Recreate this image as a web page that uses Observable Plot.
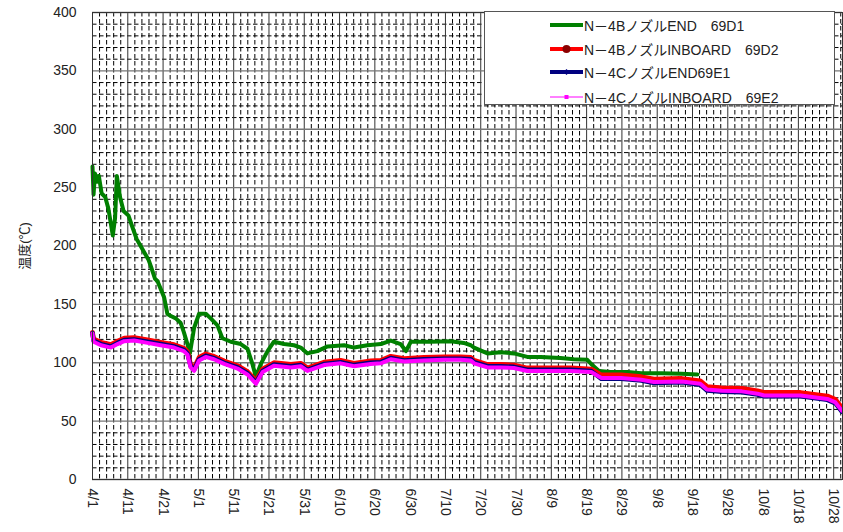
<!DOCTYPE html>
<html>
<head>
<meta charset="utf-8">
<script src="https://cdn.jsdelivr.net/npm/d3@7"></script>
<script src="https://cdn.jsdelivr.net/npm/@observablehq/plot@0.6"></script>
<style>
  body { margin: 0; background: #fff; }
  #wrap { position: relative; width: 843px; height: 532px; font-family: "Liberation Sans", Arial, "Noto Sans CJK JP", sans-serif; }
  #legend { position: absolute; left: 484px; top: 11px; width: 351px; height: 94px; background: #fff; border: 1px solid #555; box-sizing: border-box; }
  .row { position: absolute; left: 65px; height: 20px; display: flex; align-items: center; font-size: 14px; color: #222; white-space: pre; }
  .row svg { margin-right: 1px; }
  #ylabel { position: absolute; left: 23px; top: 246px; transform: translate(-50%, -50%) rotate(-90deg); font-size: 13px; color: #222; white-space: nowrap; }
</style>
</head>
<body>
<div id="wrap"></div>
<script>
// x positions are days after 4/1
const tickLabels = ["4/1","4/11","4/21","5/1","5/11","5/21","5/31","6/10","6/20","6/30","7/10","7/20","7/30","8/9","8/19","8/29","9/8","9/18","9/28","10/8","10/18","10/28"];
const tickDays = [0,10,20,30,40,50,60,70,80,90,100,110,120,130,140,150,160,170,180,190,200,210];
const yTicks = [0,50,100,150,200,250,300,350,400];
const yTitle = "温度(℃)";

const seriesNames = ["N－4BノズルEND　69D1", "N－4BノズルINBOARD　69D2", "N－4CノズルEND69E1", "N－4CノズルINBOARD　69E2"];

const daysA = [0,0.3,0.7,1.3,1.8,2.6,3.6,4.5,5.75,6.4,6.9,7.8,8.8,10.2,11.1,12.5,14.4,15.9,16.5,17.7,18.4,20.3,21.2,22.2,23.6,25,25.9,26.9,27.6,28.8,30.2,32.1,33.5,35.4,36.8,39.2,42,43.9,45.3,46.3,47.7,49.6,51.4,54.3,57.1,59,60.9,63.7,66.6,71.3,74.1,77.9,81.7,84.5,87.3,88.8,90.2,95.8,101.5,105.2,107.2,108.1,111.9,115.7,119.4,123.2,127,132.6,136.4,140.2,141.6,143.5,146.8,151.6,155.5,161.2,166.9,171.4];
const green69D1 = [268,244,262,255,260,245,242,232,209,224,260,242,230,226,218,206,196,188,183,172,170,156,142,140,138,134,126,116,108,130,142,142,138,132,121,118,116,112,99,88,99,110,118,116,115,113,108,110,114,115,113,115,116,119,116,110,118,118,118.5,117,115,113,108,109,108,105,105,104,103,102.5,98,93,92,92,91,91,90.5,90];

const daysB = [0,0.3,2.4,5.2,7.1,9,11.8,15.6,19.3,23.1,25.9,26.9,27.8,28.8,30.2,32.1,34.4,37.3,41.1,43.9,46.3,48.2,51.4,56.2,59,60.9,65.6,70.3,74.1,78.8,81.7,84.5,88.3,93.9,99.6,104.3,107.2,108.1,111.9,115.7,119.4,123.2,128.9,135.6,141.3,144.2,149.8,155.5,159.1,167,172.2,174.1,178.3,184,188.4,190.3,195,200.6,204.4,208.2,210.5,212.3];
const red69D2 = [126,120.5,117.5,115.5,118.5,121,121.5,119.5,117.5,115.5,112.5,109.5,98.5,95.5,104.5,107.5,105.5,101.5,97.5,92.5,84.5,94.5,100,98.5,99.5,95.5,100.5,102,99.5,101.5,102,105.5,103.5,104.5,105,105,104.5,102,98.5,98.5,98,95.5,95.5,95.5,94.5,89.5,89.5,88,86,86.5,84.5,79.5,78.5,78,76,74.5,74.5,74.5,73,71.5,68.5,61.5];
const navy69E1 = [125.5,119,116,114,117,119.5,120,118,116,114,111,108,97,94,103,106,104,100,96,91,83,93,98.5,97,98,94,99,100.5,98,100,100.5,104,102,103,103.5,103.5,103,100.5,97,97,96.5,94,94,94,93,86.2,86.2,84.7,82.7,83.2,81.2,76.2,75.2,74.7,72.7,71.2,71.2,71.2,69.7,68.2,65.2,58.2];
const magenta69E2 = [125,118,115,113,116,118.5,119,117,115,113,110,107,96,93,102,105,103,99,95,90,82,92,97.5,96,97,93,98,99.5,97,99,99.5,103,101,102,102.5,102.5,102,99.5,96,96,95.5,93,93,93,92,87,87,85.5,83.5,84,82,77,76,75.5,73.5,72,72,72,70.5,69,66,59];

const colors = ["#008000", "#ff0000", "#000080", "#ff00ff"];

const zip = (days, vals) => days.map((d, i) => ({d, v: vals[i]}));
const gData = zip(daysA, green69D1);
const rData = zip(daysB, red69D2);
const nData = zip(daysB, navy69E1);
const mData = zip(daysB, magenta69E2);

const minorX = d3.range(0, 213, 2).filter(d => d % 10 !== 0);
const minorY = d3.range(10, 400, 10).filter(v => v % 50 !== 0);

const dash = "4.5,2.5";
const chart = Plot.plot({
  width: 843,
  height: 532,
  marginLeft: 92,
  marginRight: 1,
  marginTop: 12,
  marginBottom: 53,
  x: {domain: [0, 212.5]},
  y: {domain: [0, 400]},
  style: {fontFamily: '"Liberation Sans", Arial, "Noto Sans CJK JP", sans-serif', fontSize: "14px", color: "#222", background: "#fff"},
  marks: [
    Plot.ruleX(minorX, {stroke: "#000", strokeDasharray: dash, strokeWidth: 1}),
    Plot.ruleY(minorY, {stroke: "#000", strokeDasharray: dash, strokeWidth: 1}),
    Plot.ruleX(tickDays, {stroke: "#333", strokeWidth: 1}),
    Plot.ruleY(yTicks, {stroke: "#777", strokeWidth: 1.3}),
    Plot.line(gData, {x: "d", y: "v", stroke: colors[0], strokeWidth: 4, strokeLinejoin: "round"}),
    Plot.line(rData, {x: "d", y: "v", stroke: colors[1], strokeWidth: 4.8, strokeLinejoin: "round"}),
    Plot.line(nData, {x: "d", y: "v", stroke: colors[2], strokeWidth: 4.5, strokeLinejoin: "round"}),
    Plot.line(mData, {x: "d", y: "v", stroke: colors[3], strokeWidth: 4, strokeLinejoin: "round"}),
    Plot.axisX({ticks: tickDays, tickFormat: d => tickLabels[tickDays.indexOf(d)], tickRotate: 90, tickSize: 0, tickPadding: 9, label: null, fontSize: 14}),
    Plot.axisY({ticks: yTicks, tickSize: 0, tickPadding: 16, label: null, fontSize: 14}),
    Plot.frame({stroke: "#333"})
  ]
});
const wrap = document.getElementById("wrap");
wrap.appendChild(chart);

const yl = document.createElement("div");
yl.id = "ylabel";
yl.textContent = yTitle;
wrap.appendChild(yl);

// legend
const legend = document.createElement("div");
legend.id = "legend";
const rowTops = [3, 27, 50, 75];
seriesNames.forEach((name, i) => {
  const row = document.createElement("div");
  row.className = "row";
  row.style.top = rowTops[i] + "px";
  const w = 33;
  let marker = "";
  if (i === 1) marker = `<circle cx="${w/2}" cy="10" r="4" fill="#8b0000"/>`;
  if (i === 2) marker = `<path d="M${w/2} 7 L${w/2+3} 10 L${w/2} 13 L${w/2-3} 10 Z" fill="#000080"/>`;
  if (i === 3) marker = `<rect x="${w/2-2}" y="8" width="4" height="4" fill="#ff00ff"/>`;
  const sw = i === 3 ? 1 : 4;
  row.innerHTML = `<svg width="${w}" height="20"><line x1="0" x2="${w}" y1="10" y2="10" stroke="${colors[i]}" stroke-width="${sw}"/>${marker}</svg><span>${name}</span>`;
  legend.appendChild(row);
});
wrap.appendChild(legend);
</script>
</body>
</html>
